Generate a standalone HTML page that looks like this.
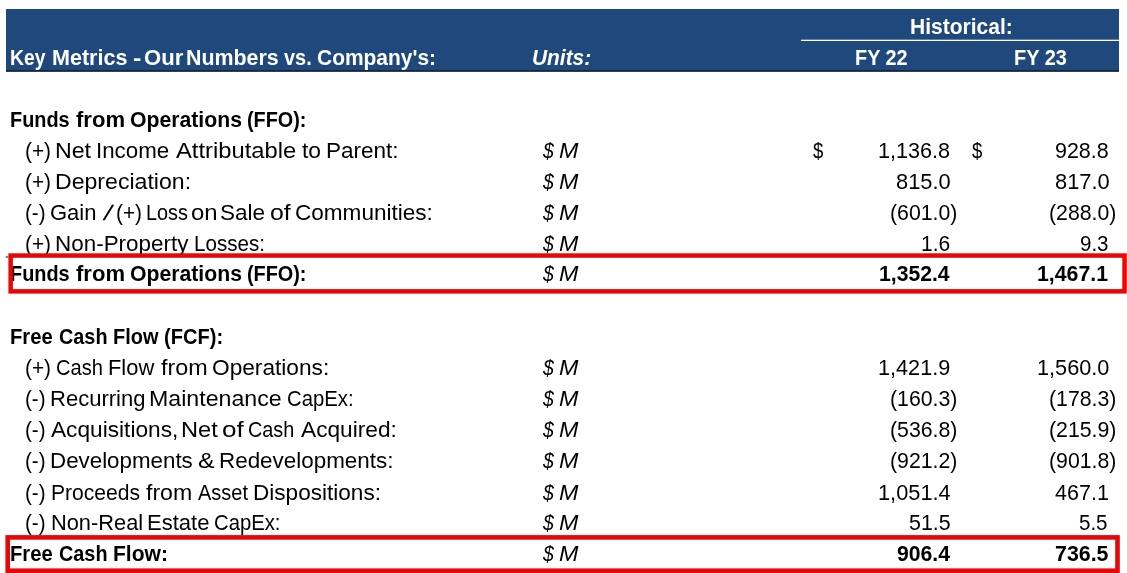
<!DOCTYPE html>
<html lang="en"><head><meta charset="utf-8"><title>Key Metrics - Our Numbers vs. Company's</title>
<style>
html,body{margin:0;padding:0;background:#fff;}
body{width:1127px;height:573px;position:relative;overflow:hidden;font-family:"Liberation Sans", sans-serif;}
svg{position:absolute;left:0;top:0;display:block;}
.t{position:absolute;white-space:pre;font-size:21.2px;line-height:24px;height:24px;color:#000;transform-origin:0 0;}
.t.r{left:0;width:1127px;}
.t.r span{position:absolute;top:0;white-space:pre;transform-origin:0 0;}
.b{font-weight:bold;} .i{font-style:italic;} .w{color:#fff;}
</style></head><body>
<svg width="1127" height="573" viewBox="0 0 1127 573" aria-hidden="true">
<rect x="6" y="9" width="1113" height="62.4" fill="#1f497d"/>
<rect x="6" y="70.4" width="1113" height="1.3" fill="#0b0f1c"/>
<rect x="801" y="39.7" width="318" height="1.3" fill="#ffffff"/>
</svg>
<div class="t w b r" style="top:45.80px"><span style="left:9.99px;transform:scaleX(0.9132)">Key</span> <span style="left:51.78px;transform:scaleX(1.0167)">Metrics</span> <span style="left:132.62px;transform:scaleX(1.1800)">-</span> <span style="left:143.56px;transform:scaleX(1.0444)">Our</span> <span style="left:186.49px;transform:scaleX(1.0100)">Numbers</span> <span style="left:284.30px;transform:scaleX(0.9393)">vs.</span> <span style="left:317.11px;transform:scaleX(0.9889)">Company&#x27;s:</span></div>
<div class="t w b i" style="left:532.21px;top:45.80px;transform:scaleX(0.9862)">Units:</div>
<div class="t w b" style="left:910.11px;top:15.00px;transform:scaleX(0.9921)">Historical:</div>
<div class="t w b" style="left:855.06px;top:45.80px;transform:scaleX(0.9370)">FY 22</div>
<div class="t w b" style="left:1013.66px;top:45.80px;transform:scaleX(0.9407)">FY 23</div>
<div class="t b r" style="top:108.00px"><span style="left:10.26px;transform:scaleX(0.9387)">Funds</span> <span style="left:76.20px;transform:scaleX(1.0413)">from</span> <span style="left:129.90px;transform:scaleX(1.0009)">Operations</span> <span style="left:246.87px;transform:scaleX(0.9344)">(FFO):</span></div>
<div class="t r" style="top:139.00px"><span style="left:25.32px;transform:scaleX(0.9833)">(+)</span> <span style="left:55.11px;transform:scaleX(1.0935)">Net</span> <span style="left:96.39px;transform:scaleX(1.0537)">Income</span> <span style="left:176.00px;transform:scaleX(1.1217)">Attributable</span> <span style="left:302.20px;transform:scaleX(1.0765)">to</span> <span style="left:326.27px;transform:scaleX(1.0631)">Parent:</span></div>
<div class="t i r" style="top:139.00px"><span style="left:542.60px;transform:scaleX(0.9167)">$</span> <span style="left:559.10px;transform:scaleX(1.1000)">M</span></div>
<div class="t r" style="top:139.00px"><span style="left:813.00px;transform:scaleX(0.8727)">$</span> <span style="left:878.09px;transform:scaleX(1.0190)">1,136.8</span></div>
<div class="t r" style="top:139.00px"><span style="left:972.00px;transform:scaleX(0.8727)">$</span> <span style="left:1055.24px;transform:scaleX(1.0121)">928.8</span></div>
<div class="t r" style="top:170.00px"><span style="left:25.32px;transform:scaleX(0.9833)">(+)</span> <span style="left:55.12px;transform:scaleX(1.0901)">Depreciation:</span></div>
<div class="t i r" style="top:170.00px"><span style="left:542.60px;transform:scaleX(0.9167)">$</span> <span style="left:559.10px;transform:scaleX(1.1000)">M</span></div>
<div class="t" style="left:896.12px;top:170.00px;transform:scaleX(1.0318)">815.0</div>
<div class="t" style="left:1054.62px;top:170.00px;transform:scaleX(1.0318)">817.0</div>
<div class="t r" style="top:201.00px"><span style="left:25.33px;transform:scaleX(0.9737)">(-)</span> <span style="left:50.36px;transform:scaleX(1.0381)">Gain</span> <span style="left:106.79px;transform:scaleX(1.3625) skewX(-10deg)">/</span> <span style="left:116.42px;transform:scaleX(0.9833)">(+)</span> <span style="left:146.22px;transform:scaleX(0.9381)">Loss</span> <span style="left:190.97px;transform:scaleX(1.1286)">on</span> <span style="left:219.94px;transform:scaleX(1.0625)">Sale</span> <span style="left:269.63px;transform:scaleX(1.1706)">of</span> <span style="left:294.94px;transform:scaleX(1.0646)">Communities:</span></div>
<div class="t i r" style="top:201.00px"><span style="left:542.60px;transform:scaleX(0.9167)">$</span> <span style="left:559.10px;transform:scaleX(1.1000)">M</span></div>
<div class="t" style="left:890.04px;top:201.00px;transform:scaleX(1.0042)">(601.0)</div>
<div class="t" style="left:1048.54px;top:201.00px;transform:scaleX(1.0042)">(288.0)</div>
<div class="t r" style="top:232.00px"><span style="left:25.32px;transform:scaleX(0.9833)">(+)</span> <span style="left:55.18px;transform:scaleX(1.0589)">Non-Property</span> <span style="left:193.56px;transform:scaleX(0.9710)">Losses:</span></div>
<div class="t i r" style="top:232.00px"><span style="left:542.60px;transform:scaleX(0.9167)">$</span> <span style="left:559.10px;transform:scaleX(1.1000)">M</span></div>
<div class="t" style="left:920.81px;top:232.00px;transform:scaleX(0.9894)">1.6</div>
<div class="t" style="left:1079.72px;top:232.00px;transform:scaleX(0.9684)">9.3</div>
<div class="t b r" style="top:262.20px"><span style="left:10.26px;transform:scaleX(0.9387)">Funds</span> <span style="left:76.20px;transform:scaleX(1.0413)">from</span> <span style="left:129.90px;transform:scaleX(1.0009)">Operations</span> <span style="left:246.86px;transform:scaleX(0.9361)">(FFO):</span></div>
<div class="t i r" style="top:262.20px"><span style="left:542.60px;transform:scaleX(0.9167)">$</span> <span style="left:559.10px;transform:scaleX(1.1000)">M</span></div>
<div class="t b" style="left:878.78px;top:262.20px;transform:scaleX(0.9985)">1,352.4</div>
<div class="t b" style="left:1037.27px;top:262.20px;transform:scaleX(1.0043)">1,467.1</div>
<div class="t b r" style="top:325.00px"><span style="left:10.24px;transform:scaleX(0.9558)">Free</span> <span style="left:59.16px;transform:scaleX(0.9367)">Cash</span> <span style="left:113.26px;transform:scaleX(0.9426)">Flow</span> <span style="left:163.65px;transform:scaleX(0.9475)">(FCF):</span></div>
<div class="t r" style="top:356.00px"><span style="left:25.32px;transform:scaleX(0.9833)">(+)</span> <span style="left:55.65px;transform:scaleX(0.9489)">Cash</span> <span style="left:107.53px;transform:scaleX(1.0326)">Flow</span> <span style="left:160.70px;transform:scaleX(1.1024)">from</span> <span style="left:211.93px;transform:scaleX(1.0701)">Operations:</span></div>
<div class="t i r" style="top:356.00px"><span style="left:542.60px;transform:scaleX(0.9167)">$</span> <span style="left:559.10px;transform:scaleX(1.1000)">M</span></div>
<div class="t" style="left:878.09px;top:356.00px;transform:scaleX(1.0219)">1,421.9</div>
<div class="t" style="left:1036.58px;top:356.00px;transform:scaleX(1.0249)">1,560.0</div>
<div class="t r" style="top:387.00px"><span style="left:25.33px;transform:scaleX(0.9737)">(-)</span> <span style="left:50.42px;transform:scaleX(1.0398)">Recurring</span> <span style="left:149.31px;transform:scaleX(1.0941)">Maintenance</span> <span style="left:287.44px;transform:scaleX(0.9582)">CapEx:</span></div>
<div class="t i r" style="top:387.00px"><span style="left:542.60px;transform:scaleX(0.9167)">$</span> <span style="left:559.10px;transform:scaleX(1.1000)">M</span></div>
<div class="t" style="left:890.04px;top:387.00px;transform:scaleX(1.0042)">(160.3)</div>
<div class="t" style="left:1048.54px;top:387.00px;transform:scaleX(1.0042)">(178.3)</div>
<div class="t r" style="top:418.00px"><span style="left:25.33px;transform:scaleX(0.9737)">(-)</span> <span style="left:51.40px;transform:scaleX(1.0701)">Acquisitions,</span> <span style="left:181.07px;transform:scaleX(1.1129)">Net</span> <span style="left:222.27px;transform:scaleX(1.2294)">of</span> <span style="left:248.26px;transform:scaleX(0.9362)">Cash</span> <span style="left:300.50px;transform:scaleX(1.0705)">Acquired:</span></div>
<div class="t i r" style="top:418.00px"><span style="left:542.60px;transform:scaleX(0.9167)">$</span> <span style="left:559.10px;transform:scaleX(1.1000)">M</span></div>
<div class="t" style="left:890.04px;top:418.00px;transform:scaleX(1.0042)">(536.8)</div>
<div class="t" style="left:1048.54px;top:418.00px;transform:scaleX(1.0042)">(215.9)</div>
<div class="t r" style="top:449.40px"><span style="left:25.33px;transform:scaleX(0.9737)">(-)</span> <span style="left:50.39px;transform:scaleX(1.0541)">Developments</span> <span style="left:197.82px;transform:scaleX(1.1769)">&amp;</span> <span style="left:218.78px;transform:scaleX(1.0578)">Redevelopments:</span></div>
<div class="t i r" style="top:449.40px"><span style="left:542.60px;transform:scaleX(0.9167)">$</span> <span style="left:559.10px;transform:scaleX(1.1000)">M</span></div>
<div class="t" style="left:890.04px;top:449.40px;transform:scaleX(1.0042)">(921.2)</div>
<div class="t" style="left:1048.54px;top:449.40px;transform:scaleX(1.0042)">(901.8)</div>
<div class="t r" style="top:480.70px"><span style="left:25.33px;transform:scaleX(0.9737)">(-)</span> <span style="left:50.61px;transform:scaleX(0.9954)">Proceeds</span> <span style="left:145.80px;transform:scaleX(1.0902)">from</span> <span style="left:197.80px;transform:scaleX(0.9434)">Asset</span> <span style="left:253.47px;transform:scaleX(1.0655)">Dispositions:</span></div>
<div class="t i r" style="top:480.70px"><span style="left:542.60px;transform:scaleX(0.9167)">$</span> <span style="left:559.10px;transform:scaleX(1.1000)">M</span></div>
<div class="t" style="left:878.07px;top:480.70px;transform:scaleX(1.0278)">1,051.4</div>
<div class="t" style="left:1055.05px;top:480.70px;transform:scaleX(1.0158)">467.1</div>
<div class="t r" style="top:510.80px"><span style="left:25.33px;transform:scaleX(0.9737)">(-)</span> <span style="left:50.54px;transform:scaleX(1.0291)">Non-Real</span> <span style="left:146.82px;transform:scaleX(1.0404)">Estate</span> <span style="left:214.24px;transform:scaleX(0.9567)">CapEx:</span></div>
<div class="t i r" style="top:510.80px"><span style="left:542.60px;transform:scaleX(0.9167)">$</span> <span style="left:559.10px;transform:scaleX(1.1000)">M</span></div>
<div class="t" style="left:908.56px;top:510.80px;transform:scaleX(1.0094)">51.5</div>
<div class="t" style="left:1079.32px;top:510.80px;transform:scaleX(0.9684)">5.5</div>
<div class="t b r" style="top:541.80px"><span style="left:10.24px;transform:scaleX(0.9558)">Free</span> <span style="left:59.16px;transform:scaleX(0.9367)">Cash</span> <span style="left:113.21px;transform:scaleX(0.9942)">Flow:</span></div>
<div class="t i r" style="top:541.80px"><span style="left:542.60px;transform:scaleX(0.9167)">$</span> <span style="left:559.10px;transform:scaleX(1.1000)">M</span></div>
<div class="t b" style="left:896.80px;top:541.80px;transform:scaleX(1.0004)">906.4</div>
<div class="t b" style="left:1055.09px;top:541.80px;transform:scaleX(1.0083)">736.5</div>
<svg width="1127" height="573" viewBox="0 0 1127 573" aria-hidden="true">
<rect x="5.8" y="256.4" width="2.6" height="1.2" fill="#333"/>
<rect x="10.65" y="255.55" width="1113.9" height="35.8" fill="none" stroke="#e80707" stroke-width="4.5"/>
<rect x="7.7" y="537.4" width="1109.8" height="33.3" fill="none" stroke="#e80707" stroke-width="4.6"/>
</svg>
</body></html>
